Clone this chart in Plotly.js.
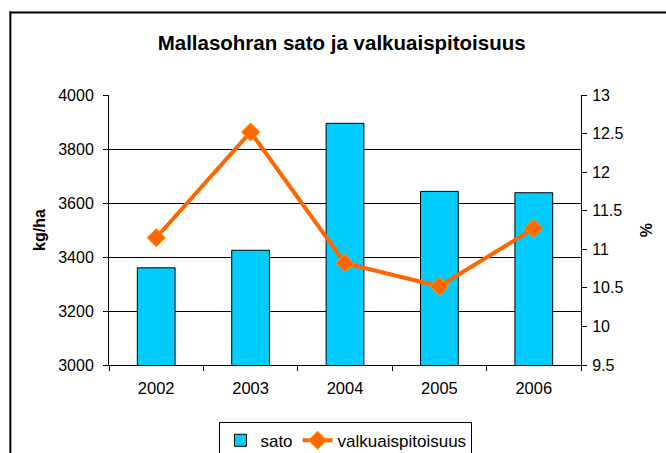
<!DOCTYPE html>
<html>
<head>
<meta charset="utf-8">
<script src="https://cdn.plot.ly/plotly-3.0.1.min.js"></script>
<style>
  html, body { margin: 0; padding: 0; background: #fff; }
  #chart { width: 666px; height: 453px; }
</style>
</head>
<body>
<div id="chart"></div>
<script>
// vuodet ja mittaukset
var years = ['2002', '2003', '2004', '2005', '2006'];
var sato = [3360, 3425, 3895, 3643, 3638];              // kg/ha
var valkuainen = [11.15, 12.52, 10.82, 10.52, 11.27];   // %

var data = [{
  x: years,
  y: sato,
  name: 'sato',
  type: 'bar',
  marker: { color: '#00CCFF', line: { color: '#000000', width: 1 } },
  hoverinfo: 'x+y'
}, {
  x: years,
  y: valkuainen,
  name: 'valkuaispitoisuus',
  type: 'scatter',
  mode: 'lines+markers',
  yaxis: 'y2',
  line: { color: '#FF6600', width: 4 },
  marker: { symbol: 'diamond', size: 14, color: '#FF6600', line: { color: '#FF9900', width: 1 } }
}];

// kehys kaavion ympärillä (jatkuu kuvan oikean ja alareunan yli)
var frameLine = { color: '#000', width: 2 };

var layout = {
  width: 666,
  height: 453,
  margin: { l: 109, r: 85, t: 95, b: 88, autoexpand: false },
  paper_bgcolor: '#ffffff',
  plot_bgcolor: '#ffffff',
  font: { family: 'Liberation Sans, Arial, sans-serif', size: 16, color: '#000' },
  title: {
    text: '<b>Mallasohran sato ja valkuaispitoisuus</b>',
    font: { size: 20.5, color: '#000' },
    x: 0.513, xanchor: 'center',
    y: 0.905, yanchor: 'middle'
  },
  bargap: 0.6,
  showlegend: true,
  legend: {
    orientation: 'h',
    x: 0.502, xanchor: 'center',
    y: -0.21, yanchor: 'top',
    bordercolor: '#000', borderwidth: 1,
    bgcolor: '#fff',
    font: { size: 17 },
    tracegroupgap: 0
  },
  xaxis: {
    type: 'category',
    showline: true, linecolor: '#000', linewidth: 1,
    ticks: 'outside', tickson: 'boundaries', ticklen: 5, tickcolor: '#000',
    ticklabelstandoff: 8,
    tickfont: { size: 16.5 },
    showgrid: false,
    zeroline: false
  },
  yaxis: {
    range: [3000, 4000], dtick: 200,
    showline: true, linecolor: '#000', linewidth: 1,
    ticks: 'outside', ticklen: 5, tickcolor: '#000',
    ticklabelstandoff: 6,
    tickfont: { size: 16 },
    showgrid: true, gridcolor: '#000', gridwidth: 1,
    zeroline: false,
    title: { text: '<b>kg/ha</b>', font: { size: 16 }, standoff: 8 }
  },
  yaxis2: {
    overlaying: 'y', side: 'right',
    range: [9.5, 13], dtick: 0.5,
    showline: true, linecolor: '#000', linewidth: 1,
    ticks: 'outside', ticklen: 5, tickcolor: '#000',
    ticklabelstandoff: 2,
    tickfont: { size: 16 },
    showgrid: false, zeroline: false,
    title: { text: '<b>%</b>', font: { size: 16 }, standoff: 18 }
  },
  shapes: [
    { type: 'line', xref: 'paper', yref: 'paper', x0: -0.209, x1: 1.2, y0: 1.306, y1: 1.306, line: frameLine },
    { type: 'line', xref: 'paper', yref: 'paper', x0: -0.209, x1: -0.209, y0: -0.4, y1: 1.31, line: frameLine }
  ]
};

Plotly.newPlot('chart', data, layout, { displayModeBar: false, staticPlot: true });
</script>
</body>
</html>
